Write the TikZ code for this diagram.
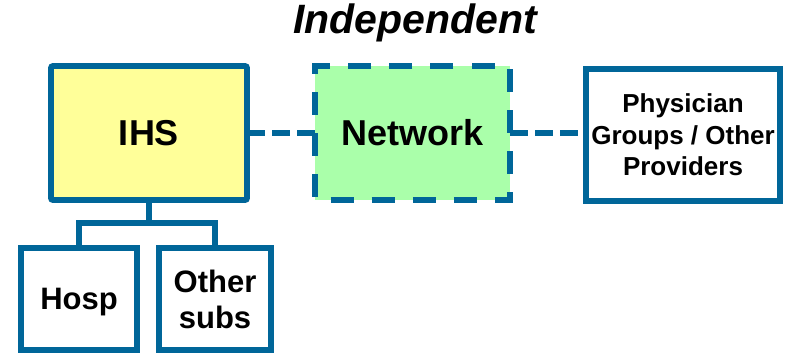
\documentclass[tikz,border=0pt]{standalone}
\usepackage{fontspec}
\setmainfont{Liberation Sans}
\definecolor{edgeblue}{HTML}{006699}
\definecolor{ihsfill}{HTML}{FFFF99}
\definecolor{netfill}{HTML}{AAFFAA}
\tikzset{
  orgbox/.style={draw=edgeblue, line width=5.8pt, rectangle, outer sep=0pt,
    inner sep=0pt, align=center, font=\bfseries},
  bigbox/.style={orgbox, minimum width=196pt, minimum height=134pt},
  subbox/.style={orgbox, minimum width=114pt, minimum height=102pt},
  % 16 dash periods fit the perimeter of the network box exactly
  boxdash/.style={dash pattern=on 23pt off 18.125pt, dash phase=25.625pt},
  linkdash/.style={draw=edgeblue, line width=5.8pt, dash pattern=on 18pt off 7pt},
  treeline/.style={draw=edgeblue, line width=5.8pt}
}
\begin{document}
\begin{tikzpicture}[x=1pt,y=-1pt]
\useasboundingbox (0,0) rectangle (785,354);

% title
\node[anchor=base, inner sep=0pt, font=\fontsize{41}{41}\selectfont\bfseries\itshape]
  (title) at (415,33) {Independent};

% main boxes
\node[bigbox, fill=ihsfill, rounded corners=2pt, font=\fontsize{36}{36}\selectfont\bfseries]
  (ihs) at (149,133) {IHS};
\node[bigbox, fill=netfill, boxdash, minimum width=195pt, font=\fontsize{36}{36}\selectfont\bfseries]
  (net) at (412.5,133) {Network};
\node[orgbox, fill=white, minimum width=194pt, minimum height=132pt,
  font=\fontsize{26}{31.5}\selectfont\bfseries]
  (phys) at (683,135) {Physician\\Groups / Other\\Providers};

% subsidiaries
\node[subbox, minimum width=116pt, text depth=0pt, font=\fontsize{31}{36}\selectfont\bfseries]
  (hosp) at (79,299) {Hosp};
\node[subbox, minimum width=112pt, font=\fontsize{31}{36}\selectfont\bfseries]
  (subs) at (215,299) {Other\\subs};

% dashed links
\draw[linkdash] (ihs.east) -- (net.west);
\draw[linkdash] (net.east) -- (net.east -| phys.west);

% ownership tree
\coordinate (fork) at (149,223);
\draw[treeline] (ihs.south) -- (fork);
\draw[treeline] (hosp.north) |- (fork) -| (subs.north);
\end{tikzpicture}
\end{document}
